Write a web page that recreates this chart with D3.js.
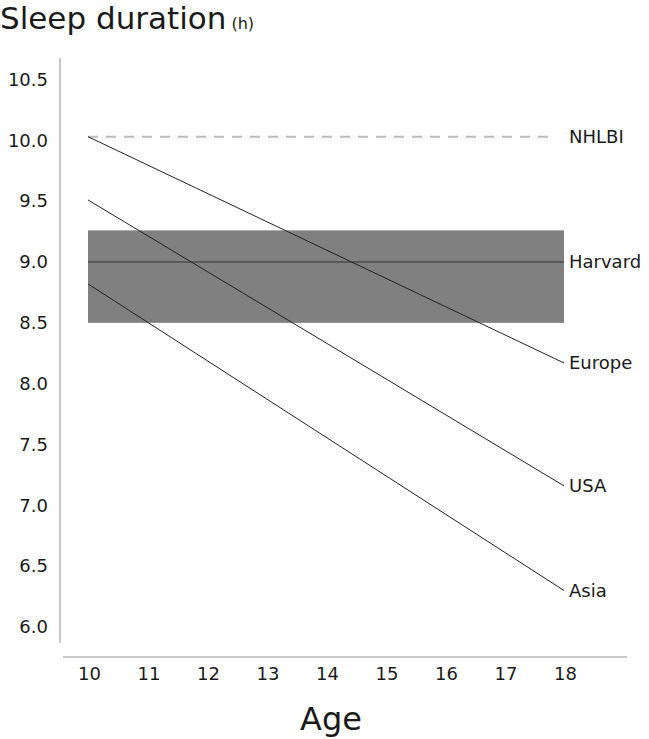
<!DOCTYPE html>
<html><head><meta charset="utf-8">
<script src="https://cdn.jsdelivr.net/npm/d3@7/dist/d3.min.js"></script>
<style>body{margin:0;background:#fff;}svg{display:block;font-family:"DejaVu Sans",sans-serif;}</style>
</head><body>
<svg id="c" width="649" height="739"></svg>
<script>
const ages = [10, 18];
const xTicks = [10, 11, 12, 13, 14, 15, 16, 17, 18];
const yTicks = [6.0, 6.5, 7.0, 7.5, 8.0, 8.5, 9.0, 9.5, 10.0, 10.5];
const seriesNames = ["Europe", "USA", "Asia"];
const europe = [10.03, 8.17];
const usa = [9.51, 7.16];
const asia = [8.82, 6.30];
const nhlbi = 10.03;
const harvard = 9.0;
const harvardBand = [8.5, 9.26];

const FONT = '"DejaVu Sans",sans-serif';
const svg = d3.select("#c");
const x = d3.scaleLinear().domain([10, 18]).range([88, 564]);
const y = d3.scaleLinear().domain([6, 10.5]).range([627, 79.5]);

// axis lines
svg.append("line").attr("x1", 60).attr("x2", 60).attr("y1", 58).attr("y2", 643)
  .attr("stroke", "#c8c8c8").attr("stroke-width", 2);
svg.append("line").attr("x1", 63).attr("x2", 627).attr("y1", 657).attr("y2", 657)
  .attr("stroke", "#c8c8c8").attr("stroke-width", 2);

// y axis labels
const yAxis = d3.axisLeft(y).tickValues(yTicks).tickFormat(d3.format(".1f")).tickSize(0).tickPadding(0);
const gy = svg.append("g").attr("transform", "translate(48,0)").call(yAxis);
gy.select(".domain").remove();
gy.selectAll("text").attr("font-size", 18).attr("fill", "#1a1a1a").attr("font-family", FONT);

// x axis labels
const xAxis = d3.axisBottom(x).tickValues(xTicks).tickFormat(d3.format("d")).tickSize(0).tickPadding(0);
const gx = svg.append("g").attr("transform", "translate(1,667)").call(xAxis);
gx.select(".domain").remove();
gx.selectAll("text").attr("font-size", 18).attr("fill", "#1a1a1a").attr("font-family", FONT);

// Harvard band
svg.append("rect").attr("x", x(10)).attr("width", x(18) - x(10))
  .attr("y", y(harvardBand[1])).attr("height", y(harvardBand[0]) - y(harvardBand[1]))
  .attr("fill", "#808080");
svg.append("line").attr("x1", x(10)).attr("x2", x(18)).attr("y1", y(harvard)).attr("y2", y(harvard))
  .attr("stroke", "#333").attr("stroke-width", 1);

// NHLBI dashed
svg.append("line").attr("x1", x(10)).attr("x2", 550).attr("y1", y(nhlbi)).attr("y2", y(nhlbi))
  .attr("stroke", "#bdbdbd").attr("stroke-width", 2).attr("stroke-dasharray", "10,8");

// series lines
const data = [europe, usa, asia];
const line = d3.line().x((d, i) => x(ages[i])).y(d => y(d));
data.forEach(s => {
  svg.append("path").attr("d", line(s)).attr("fill", "none").attr("stroke", "#222").attr("stroke-width", 1);
});

// labels
const labels = [["NHLBI", nhlbi], ["Harvard", harvard]].concat(seriesNames.map((n, i) => [n, data[i][1]]));
svg.selectAll(".lbl").data(labels).join("text").attr("class", "lbl")
  .attr("x", 569).attr("y", d => y(d[1])).attr("dy", "0.35em")
  .attr("font-size", 18).attr("fill", "#1a1a1a").text(d => d[0]);

// title
const t = svg.append("text").attr("x", 0).attr("y", 29).attr("fill", "#1a1a1a");
t.append("tspan").attr("font-size", 31).text("Sleep duration");
t.append("tspan").attr("font-size", 16).attr("dx", 5).text("(h)");

// x title
svg.append("text").attr("x", 331).attr("y", 730).attr("text-anchor", "middle")
  .attr("font-size", 32).attr("fill", "#1a1a1a").text("Age");
</script>
</body></html>
